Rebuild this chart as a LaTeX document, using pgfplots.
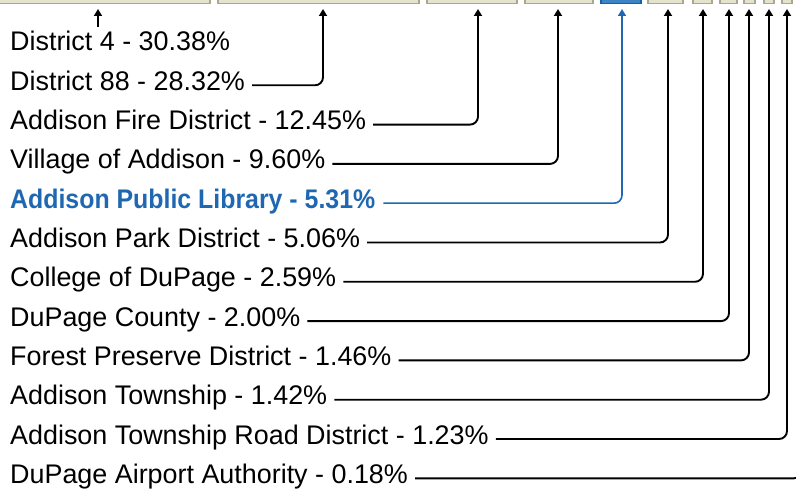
\documentclass[border=0pt]{standalone}
\usepackage{pgfplots}
\pgfplotsset{compat=1.18}
\usepackage{fontspec}
\setmainfont{Liberation Sans}
\usepackage{graphicx}
\usetikzlibrary{arrows.meta}
\definecolor{barfill}{HTML}{E4E4CE}
\definecolor{barline}{HTML}{A8A890}
\definecolor{libfill}{HTML}{3D84C6}
\definecolor{libline}{HTML}{1B5EA6}
\definecolor{libtext}{HTML}{1F68B1}
\newcommand{\lblfont}{\fontsize{26.9}{30}\selectfont}
\tikzset{
  lbl/.style={anchor=base west, inner sep=0pt, font=\lblfont},
  lead/.style={line width=1.9pt, rounded corners=8pt, -{Triangle[width=8pt,length=7pt]}}}
\begin{document}
\begin{tikzpicture}
\begin{axis}[scale only axis, width=796pt, height=489pt,
  xmin=0, xmax=796, ymin=0, ymax=489, y dir=reverse, hide axis, clip=true]
% stacked bar segments (pixel extents of each tax share)
\addplot[fill=barfill, draw=barline, line width=1.4pt] coordinates {(-14,-20) (210,-20) (210,3.5) (-14,3.5)} -- cycle;
\addplot[fill=barfill, draw=barline, line width=1.4pt] coordinates {(218,-20) (419,-20) (419,3.5) (218,3.5)} -- cycle;
\addplot[fill=barfill, draw=barline, line width=1.4pt] coordinates {(427,-20) (517,-20) (517,3.5) (427,3.5)} -- cycle;
\addplot[fill=barfill, draw=barline, line width=1.4pt] coordinates {(525,-20) (593,-20) (593,3.5) (525,3.5)} -- cycle;
\addplot[fill=libfill, draw=libline, line width=1.6pt] coordinates {(601,-20) (641,-20) (641,3.5) (601,3.5)} -- cycle;
\addplot[fill=barfill, draw=barline, line width=1.4pt] coordinates {(648,-20) (683,-20) (683,3.5) (648,3.5)} -- cycle;
\addplot[fill=barfill, draw=barline, line width=1.4pt] coordinates {(693,-20) (712,-20) (712,3.5) (693,3.5)} -- cycle;
\addplot[fill=barfill, draw=barline, line width=1.4pt] coordinates {(720,-20) (737,-20) (737,3.5) (720,3.5)} -- cycle;
\addplot[fill=barfill, draw=barline, line width=1.4pt] coordinates {(744,-20) (755,-20) (755,3.5) (744,3.5)} -- cycle;
\addplot[fill=barfill, draw=barline, line width=1.4pt] coordinates {(764,-20) (774,-20) (774,3.5) (764,3.5)} -- cycle;
\addplot[fill=barfill, draw=barline, line width=1.4pt] coordinates {(782,-20) (792,-20) (792,3.5) (782,3.5)} -- cycle;
\addplot[fill=barfill, draw=barline, line width=1.4pt] coordinates {(798,-20) (806,-20) (806,3.5) (798,3.5)} -- cycle;
% labels
\node[lbl] (l0) at (axis cs:10,51) {District 4 - 30.38\%};
\node[lbl] (l1) at (axis cs:10,90.3) {District 88 - 28.32\%};
\node[lbl] (l2) at (axis cs:10,129.6) {Addison Fire District - 12.45\%};
\node[lbl] (l3) at (axis cs:10,168.9) {Village of Addison - 9.60\%};
\node[lbl, text=libtext] (l4) at (axis cs:10,208.2) {\scalebox{0.925}[1]{\bfseries Addison Public Library - 5.31\%}};
\node[lbl] (l5) at (axis cs:10,247.5) {Addison Park District - 5.06\%};
\node[lbl] (l6) at (axis cs:10,286.8) {College of DuPage - 2.59\%};
\node[lbl] (l7) at (axis cs:10,326.1) {DuPage County - 2.00\%};
\node[lbl] (l8) at (axis cs:10,365.4) {Forest Preserve District - 1.46\%};
\node[lbl] (l9) at (axis cs:10,404.7) {Addison Township - 1.42\%};
\node[lbl] (l10) at (axis cs:10,444) {Addison Township Road District - 1.23\%};
\node[lbl] (l11) at (axis cs:10,483.3) {DuPage Airport Authority - 0.18\%};
% leader lines
\draw[lead, line width=1.6pt] (axis cs:98,27) -- (axis cs:98,9);
\draw[lead] ([xshift=7pt,yshift=5pt]l1.base east) -| (axis cs:323,9);
\draw[lead] ([xshift=7pt,yshift=5pt]l2.base east) -| (axis cs:478,9);
\draw[lead] ([xshift=7pt,yshift=5pt]l3.base east) -| (axis cs:558,9);
\draw[lead, draw=libtext, line width=1.6pt] ([xshift=8pt,yshift=5pt]l4.base east) -| (axis cs:622,9);
\draw[lead] ([xshift=7pt,yshift=5pt]l5.base east) -| (axis cs:668,9);
\draw[lead] ([xshift=7pt,yshift=5pt]l6.base east) -| (axis cs:703,9);
\draw[lead] ([xshift=7pt,yshift=5pt]l7.base east) -| (axis cs:729,9);
\draw[lead] ([xshift=7pt,yshift=5pt]l8.base east) -| (axis cs:749,9);
\draw[lead] ([xshift=7pt,yshift=5pt]l9.base east) -| (axis cs:769,9);
\draw[lead] ([xshift=7pt,yshift=5pt]l10.base east) -| (axis cs:787,9);
\draw[lead] ([xshift=7pt,yshift=5pt]l11.base east) -| (axis cs:802,9);
\end{axis}
\pgfresetboundingbox
\path (0,0) rectangle (796pt,489pt);
\end{tikzpicture}
\end{document}
